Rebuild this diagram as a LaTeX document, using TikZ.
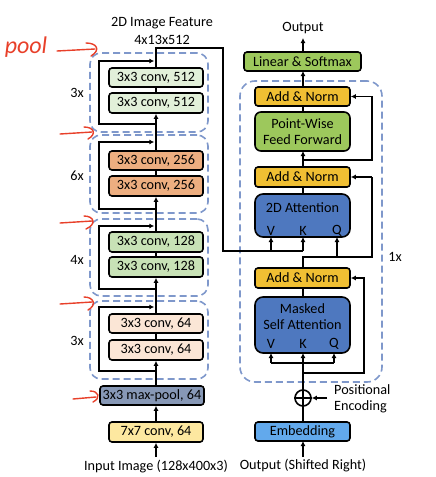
\documentclass[tikz,border=0pt]{standalone}
\usepackage{fontspec}
\setmainfont{Carlito}
\usetikzlibrary{arrows.meta}
\definecolor{cA}{HTML}{E2F0D9}
\definecolor{cB}{HTML}{EDAE80}
\definecolor{cC}{HTML}{C8E2B6}
\definecolor{cD}{HTML}{FBE6D6}
\definecolor{cPool}{HTML}{8798B6}
\definecolor{cSeven}{HTML}{FDE8A0}
\definecolor{cGreen}{HTML}{9DC85C}
\definecolor{cGold}{HTML}{F0BF33}
\definecolor{cBlue}{HTML}{4E78BF}
\definecolor{cEmb}{HTML}{62A9EC}
\definecolor{cDash}{HTML}{7F98CB}
\definecolor{cRed}{HTML}{E8402A}
\begin{document}
\begin{tikzpicture}[x=1pt,y=-1pt,
  font=\fontsize{14.2}{16}\selectfont,
  blk/.style={draw=black,line width=1.6pt,rounded corners=3pt,inner sep=0pt,align=center},
  convbox/.style={blk,minimum width=94pt},
  rbox/.style={blk,minimum width=95pt},
  dashbox/.style={draw=cDash,dashed,dash pattern=on 7pt off 4pt,line width=1.6pt,rounded corners=11pt,inner sep=0pt},
  conn/.style={line width=1.4pt},
  arr/.style={conn,-{Latex[length=5pt,width=5pt]}},
  redarr/.style={draw=cRed,line width=1.4pt,line cap=round},
  lbl/.style={inner sep=0pt,align=center}
]
\useasboundingbox (0,0) rectangle (436,477);

% ---------------- left column ----------------
\node[lbl] (feat1) at (162,23) {2D Image Feature};
\node[lbl] (feat2) at (162,40) {4x13x512};

\node[dashbox,minimum width=118pt,minimum height=79pt] (d1) at (149,92.5) {};
\node[dashbox,minimum width=118pt,minimum height=78pt] (d2) at (149,174) {};
\node[dashbox,minimum width=118pt,minimum height=77pt] (d3) at (149,257.5) {};
\node[dashbox,minimum width=118pt,minimum height=78pt] (d4) at (149,340) {};

\node[convbox,fill=cA,minimum height=19pt] (c512a) at (156,77.5) {3x3 conv, 512};
\node[convbox,fill=cA,minimum height=20pt] (c512b) at (156,103) {3x3 conv, 512};
\node[convbox,fill=cB,minimum height=19pt] (c256a) at (156,160.5) {3x3 conv, 256};
\node[convbox,fill=cB,minimum height=20pt] (c256b) at (156,186) {3x3 conv, 256};
\node[convbox,fill=cC,minimum height=20pt] (c128a) at (156,242) {3x3 conv, 128};
\node[convbox,fill=cC,minimum height=20pt] (c128b) at (156,267) {3x3 conv, 128};
\node[convbox,fill=cD,minimum height=19pt] (c64a) at (156,323.5) {3x3 conv, 64};
\node[convbox,fill=cD,minimum height=20pt] (c64b) at (156,350) {3x3 conv, 64};
\node[blk,fill=cPool,minimum width=104pt,minimum height=19pt] (mpool) at (152,395.5) {3x3 max-pool, 64};
\node[convbox,fill=cSeven,minimum height=20pt] (c7) at (156,432) {7x7 conv, 64};
\node[lbl] (inp) at (156,467) {Input Image (128x400x3)};

\node[lbl] (r1) at (77,93) {3x};
\node[lbl] (r2) at (77,176) {6x};
\node[lbl] (r3) at (77,260) {4x};
\node[lbl] (r4) at (77,341) {3x};

% spine
\coordinate (inbot) at (156,457);
\draw[arr] (inbot) -- (c7.south);
\draw[arr] (c7.north) -- (c7.north |- mpool.south);
\draw[arr] (c7.north |- mpool.north) -- (c64b.south);
\draw[conn] (c64b.north) -- (c64a.south);
\draw[arr] (c64a.north) -- (c128b.south);
\draw[conn] (c128b.north) -- (c128a.south);
\draw[arr] (c128a.north) -- (c256b.south);
\draw[conn] (c256b.north) -- (c256a.south);
\draw[arr] (c256a.north) -- (c512b.south);
\draw[conn] (c512b.north) -- (c512a.south);

% skip loops
\draw[arr] (156,124) -- (99,124) -- (99,61) -- (154.3,61);
\draw[arr] (156,209) -- (99,209) -- (99,142) -- (154.3,142);
\draw[arr] (156,289) -- (99,289) -- (99,226) -- (154.3,226);
\draw[arr] (156,371) -- (99,371) -- (99,307) -- (154.3,307);

% ---------------- right column ----------------
\node[dashbox,rounded corners=15pt,minimum width=142pt,minimum height=301pt] (dr) at (311,231.5) {};
\node[lbl] (onex) at (395,257) {1x};

\node[lbl] (outp) at (303,28) {Output};
\node[blk,fill=cGreen,minimum width=117pt,minimum height=19pt] (lin) at (302.5,61.5) {Linear \& Softmax};
\node[rbox,fill=cGold,minimum height=19pt] (an1) at (302.5,96.5) {Add \& Norm};
\node[rbox,fill=cGreen,minimum height=39pt,rounded corners=6pt] (pw) at (302.5,131.5) {Point-Wise\\[-0.5pt]Feed Forward};
\node[rbox,fill=cGold,minimum height=20pt] (an2) at (302.5,177) {Add \& Norm};
\node[rbox,fill=cBlue,minimum height=43pt,rounded corners=8pt] (att) at (302.5,215.5) {};
\node[lbl] (attt) at (302.5,208) {2D Attention};
\node[lbl] (aV) at (271,231) {V};
\node[lbl] (aK) at (303,231) {K};
\node[lbl] (aQ) at (337,231) {Q};
\node[rbox,fill=cGold,minimum height=20pt] (an3) at (302.5,278) {Add \& Norm};
\node[rbox,fill=cBlue,minimum height=56pt,rounded corners=8pt] (msa) at (302.5,325) {};
\node[lbl] (msat) at (302.5,316.5) {Masked\\[-0.5pt]Self Attention};
\node[lbl] (mV) at (271,344) {V};
\node[lbl] (mK) at (303,344) {K};
\node[lbl] (mQ) at (334,344) {Q};
\node[draw,circle,line width=1.6pt,minimum size=16pt,inner sep=0pt] (plus) at (303,398) {};
\draw[line width=1.4pt] (plus.west) -- (plus.east) (plus.north) -- (plus.south);
\node[lbl,align=left,anchor=west] (pe) at (334,398.5) {Positional\\[0pt]Encoding};
\node[rbox,fill=cEmb,minimum height=19pt] (emb) at (302.5,431.5) {Embedding};
\node[lbl] (outs) at (303,466) {Output (Shifted Right)};

\coordinate (outbot) at (303,457);
\draw[arr] (outbot) -- (303,441);
\draw[conn] (emb.north -| plus) -- (plus.south);
\draw[arr] (327,398) -- (plus.east);
\draw[conn] (plus.north) -- (303,363);
\draw[conn] (271,363) -- (334,363);
\draw[arr] (271,363) -- (271,353);
\draw[arr] (303,363) -- (303,353);
\draw[arr] (334,363) -- (334,353);
\draw[arr] (303,373) -- (364,373) -- (364,278) -- (an3.east);
\draw[conn] (303,297) -- (303,288);
\draw[conn] (303,268) -- (303,257) -- (372,257) -- (372,177);
\draw[arr] (372,177) -- (an2.east);
\draw[arr] (337,257) -- (337,237);
\draw[conn] (303,194) -- (303,187);
\draw[arr] (303,167) -- (303,151);
\draw[arr] (303,160) -- (372,160) -- (372,96.5) -- (an1.east);
\draw[conn] (303,112) -- (303,106);
\draw[arr] (303,87) -- (303,71);
\draw[arr] (303,52) -- (303,38);

% feature to 2D attention
\draw[conn] (c512a.north -| 156,0) -- (156,48) -- (223,48) -- (223,251) -- (303,251);
\draw[arr] (271,251) -- (271,237);
\draw[arr] (303,251) -- (303,237);

% ---------------- red annotations ----------------
\node[lbl,text=cRed,font=\fontsize{24}{26}\itshape] (pool) at (26,47) {pool};
\draw[redarr] (57,51) -- (95,49);
\draw[redarr] (86,43) .. controls (97,43) and (101,50) .. (91,56);
\draw[redarr] (60,134) -- (92,132);
\draw[redarr] (84,127) .. controls (94,127) and (97,134) .. (88,139);
\draw[redarr] (60,223) -- (92,221);
\draw[redarr] (84,216) .. controls (94,216) and (97,224) .. (86,229);
\draw[redarr] (60,304) -- (92,302);
\draw[redarr] (84,297) .. controls (94,297) and (97,305) .. (88,310);
\draw[redarr] (73,399) -- (96,397);
\draw[redarr] (90,391) .. controls (99,391) and (101,398) .. (93,402);
\end{tikzpicture}
\end{document}
